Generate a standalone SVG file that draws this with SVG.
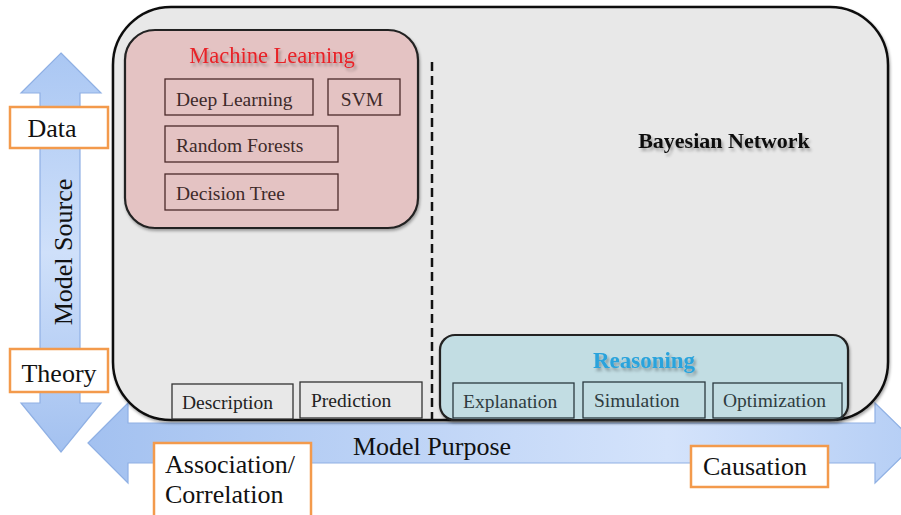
<svg xmlns="http://www.w3.org/2000/svg" width="901" height="515" viewBox="0 0 901 515">
<defs>
<linearGradient id="gv" x1="0" y1="0" x2="0" y2="1">
<stop offset="0" stop-color="#aac7f3"/><stop offset="0.5" stop-color="#cfe0fa"/><stop offset="1" stop-color="#a3c1f0"/>
</linearGradient>
<linearGradient id="gh" x1="0" y1="0" x2="1" y2="0">
<stop offset="0" stop-color="#a3c1f0"/><stop offset="0.7" stop-color="#d4e3fb"/><stop offset="1" stop-color="#b5cef5"/>
</linearGradient>
<filter id="ts" x="-10%" y="-30%" width="130%" height="180%">
<feGaussianBlur in="SourceAlpha" stdDeviation="1.5"/><feOffset dx="1.5" dy="2.5" result="b"/>
<feComponentTransfer in="b" result="c"><feFuncA type="linear" slope="0.3"/></feComponentTransfer>
<feMerge><feMergeNode in="c"/><feMergeNode in="SourceGraphic"/></feMerge>
</filter>
<filter id="bs" x="-5%" y="-5%" width="110%" height="115%">
<feGaussianBlur in="SourceAlpha" stdDeviation="1.5"/><feOffset dx="1" dy="2" result="b"/>
<feComponentTransfer in="b" result="c"><feFuncA type="linear" slope="0.35"/></feComponentTransfer>
<feMerge><feMergeNode in="c"/><feMergeNode in="SourceGraphic"/></feMerge>
</filter>
</defs>
<style>
text{font-family:"Liberation Serif","Times New Roman",serif}
.lbl{font-size:26px;fill:#111}
.ax{font-size:26px;fill:#111}
.ob{fill:#fff;stroke:#f39a4c;stroke-width:2.5}
.arr{stroke:#8fb0e4;stroke-width:1.2}
.ml{fill:#e4c3c3;stroke:#222;stroke-width:2.2}
.mli{fill:none;stroke:#4a2a2a;stroke-width:1.3}
.mlt{font-size:19.5px;fill:#3d2a2a}
.rb{fill:#c2dde3;stroke:#222;stroke-width:2.2}
.rbi{fill:none;stroke:#2a3a40;stroke-width:1.3}
.rt{font-size:19.5px;fill:#2f3c40}
.pb{fill:#e8e8e8;stroke:#333;stroke-width:1.3}
.pt{font-size:19.5px;fill:#222}
</style>
<g id="connectors">
<path class="arr" fill="url(#gv)" d="M61,53 L101,93 L80,93 L80,403 L101,403 L61,452 L21,403 L40,403 L40,93 L21,93 Z"/>
<path class="arr" fill="url(#gh)" d="M88,443 L128,403 L128,423 L875,423 L875,403 L916,443 L875,483 L875,463 L128,463 L128,483 Z"/>
</g>
<g id="model-source-label"><text class="ax" transform="translate(72,252) rotate(-90)" text-anchor="middle">Model Source</text></g>
<g id="model-purpose-label"><text class="ax" x="432" y="455" text-anchor="middle">Model Purpose</text></g>
<g id="data"><rect class="ob" x="10" y="107" width="98" height="41"/><text class="lbl" x="52" y="137" text-anchor="middle">Data</text></g>
<g id="theory"><rect class="ob" x="10" y="349" width="98" height="43"/><text class="lbl" x="59" y="382" text-anchor="middle">Theory</text></g>
<g id="bayesian-network">
<rect x="113" y="7" width="775" height="413" rx="58" ry="58" fill="#e8e8e8" stroke="#111" stroke-width="2.5" filter="url(#bs)"/>
<text x="724" y="148" text-anchor="middle" font-size="22" font-weight="bold" fill="#111" filter="url(#ts)">Bayesian Network</text>
</g>
<g id="divider"><line x1="432" y1="62" x2="432" y2="420" stroke="#111" stroke-width="2.5" stroke-dasharray="9,5"/></g>
<g id="machine-learning">
<rect class="ml" x="125" y="30" width="293" height="198" rx="30" ry="30" filter="url(#bs)"/>
<text x="272" y="63" text-anchor="middle" font-size="22.5" fill="#e82128" filter="url(#ts)">Machine Learning</text>
</g>
<g id="deep-learning"><rect class="mli" x="165" y="79" width="148" height="36"/><text class="mlt" x="176" y="106">Deep Learning</text></g>
<g id="svm"><rect class="mli" x="328" y="79" width="72" height="36"/><text class="mlt" x="362" y="106" text-anchor="middle">SVM</text></g>
<g id="random-forests"><rect class="mli" x="165" y="126" width="173" height="36"/><text class="mlt" x="176" y="152">Random Forests</text></g>
<g id="decision-tree"><rect class="mli" x="165" y="174" width="173" height="36"/><text class="mlt" x="176" y="200">Decision Tree</text></g>
<g id="description"><rect class="pb" x="172" y="384" width="121" height="35"/><text class="pt" x="182" y="409">Description</text></g>
<g id="prediction"><rect class="pb" x="300" y="382" width="122" height="36"/><text class="pt" x="311" y="407">Prediction</text></g>
<g id="reasoning">
<rect class="rb" x="440" y="335" width="408" height="85" rx="15" ry="15" filter="url(#bs)"/>
<text x="644" y="368" text-anchor="middle" font-size="23" font-weight="bold" fill="#29a3dc" filter="url(#ts)">Reasoning</text>
</g>
<g id="explanation"><rect class="rbi" x="453" y="383" width="121" height="35"/><text class="rt" x="463" y="408">Explanation</text></g>
<g id="simulation"><rect class="rbi" x="583" y="382" width="122" height="36"/><text class="rt" x="594" y="407">Simulation</text></g>
<g id="optimization"><rect class="rbi" x="713" y="383" width="129" height="35"/><text class="rt" x="723" y="407">Optimization</text></g>
<g id="association-correlation"><rect class="ob" x="154" y="443" width="157" height="80"/><text class="lbl" x="165" y="473">Association/</text><text class="lbl" x="165" y="503">Correlation</text></g>
<g id="causation"><rect class="ob" x="691" y="446" width="137" height="41"/><text class="lbl" x="755" y="475" text-anchor="middle">Causation</text></g>
</svg>
